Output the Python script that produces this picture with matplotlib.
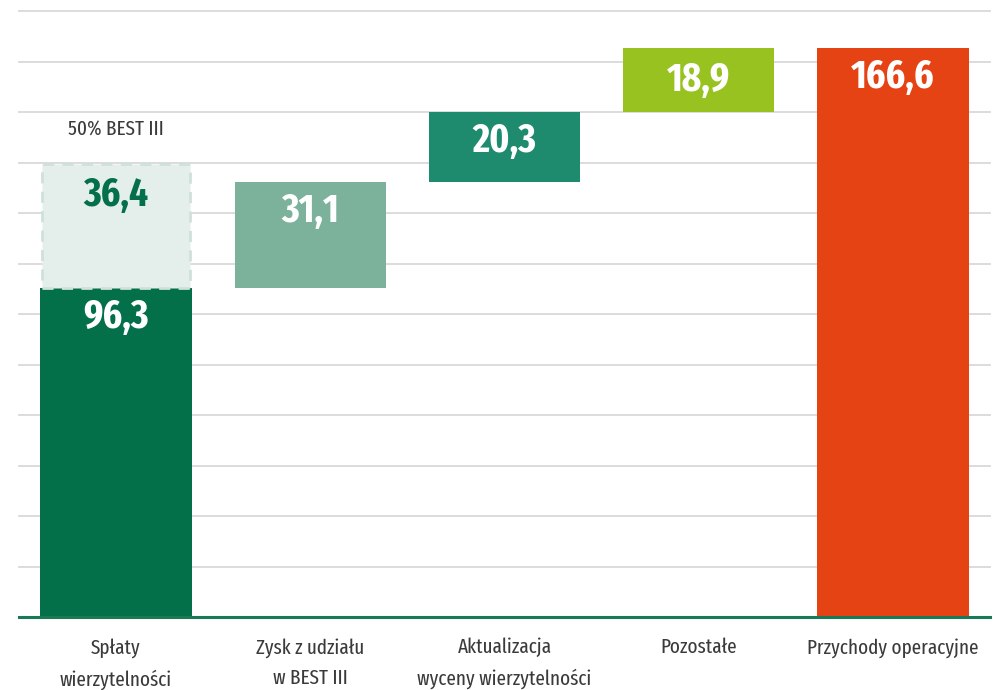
import matplotlib
matplotlib.use("Agg")
import matplotlib.pyplot as plt
from matplotlib import font_manager
from matplotlib.patches import Rectangle
import numpy as np

categories = ["Spłaty\nwierzytelności", "Zysk z udziału\nw BEST III",
              "Aktualizacja\nwyceny wierzytelności", "Pozostałe", "Przychody operacyjne"]
values = [96.3, 31.1, 20.3, 18.9, 166.6]
value_labels = ["96,3", "31,1", "20,3", "18,9", "166,6"]
best_extra = 36.4
best_extra_label = "36,4"
best_note = "50% BEST III"

colors = ["#03704A", "#7CB29B", "#1E8B6F", "#98C21F", "#E64314"]

names = {f.name for f in font_manager.fontManager.ttflist}
prefs = ["Myriad Pro Condensed", "Myriad Pro", "Fira Sans Extra Condensed", "Open Sans Condensed",
         "Fira Sans Condensed", "Roboto Condensed", "PT Sans Narrow", "Archivo Narrow",
         "Encode Sans Condensed", "Barlow Semi Condensed", "Liberation Sans Narrow"]
chosen = next((p for p in prefs if p in names), "DejaVu Sans")
plt.rcParams['font.family'] = [chosen, "DejaVu Sans"]

fig = plt.figure(figsize=(9.93, 6.90), dpi=100)
ax = fig.add_axes([19/993, (690-617)/690, (990-19)/993, (617-11)/690])

bottoms = []
cum = 0
for i, v in enumerate(values):
    if i == len(values) - 1:
        bottoms.append(0)
    else:
        bottoms.append(cum)
        cum += v

ymax = 177.4
ax.set_ylim(0, ymax)
ax.set_xlim(-0.5, len(values) - 0.5)
for g in np.linspace(0, ymax, 13)[1:]:
    ax.axhline(g, color="#D9D9D9", lw=1.3, zorder=0, clip_on=False)
ax.axhline(0, color="#1A7A55", lw=2.2, zorder=3, clip_on=False)

width = 0.78
x = np.arange(len(values))
ax.bar(x, values, bottom=bottoms, width=width, color=colors, zorder=2)

ax.add_patch(Rectangle((x[0] - width/2 + 0.01, values[0]), width - 0.02, best_extra,
                       facecolor="#E4EEEA", edgecolor="#CFE1D9", lw=2, ls=(0, (4, 3)), zorder=2))

vfont = dict(fontsize=29, fontweight="bold")
for i, v in enumerate(values):
    top = bottoms[i] + v
    if i == 3:
        ypos, off = bottoms[i] + v/2, 0
    else:
        ypos, off = top, -21
    ax.annotate(value_labels[i], (x[i], ypos), xytext=(0, off), textcoords="offset points",
                ha="center", va="center", color="white", zorder=4, **vfont)

top_box = values[0] + best_extra
ax.annotate(best_extra_label, (x[0], top_box), xytext=(0, -23), textcoords="offset points",
            ha="center", va="center", color="#03704A", zorder=4, **vfont)
ax.annotate(best_note, (x[0], top_box), xytext=(0, 25), textcoords="offset points",
            ha="center", va="center", color="#3A3A3A", fontsize=15, fontweight="normal", zorder=4)

ax.set_xticks(x)
ax.set_xticklabels(categories, fontsize=15, color="#3A3A3A", linespacing=1.7, va="top",
                   fontweight="normal")
ax.tick_params(axis="x", length=0, pad=15)
ax.set_yticks([])
for s in ax.spines.values():
    s.set_visible(False)

fig.savefig("out.png", dpi=100)
